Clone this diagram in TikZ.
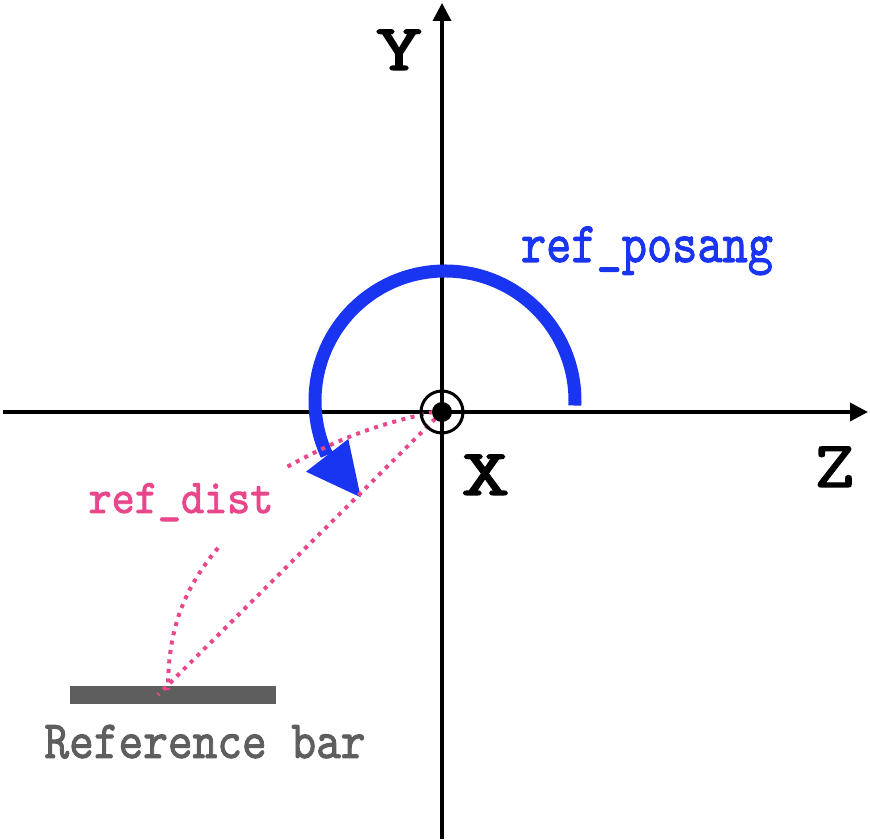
\documentclass[tikz,border=0pt]{standalone}
\usepackage{graphicx}
\usepackage{fontspec}
\usetikzlibrary{arrows.meta}
\newfontfamily\tw{lmmono10-regular}[Extension=.otf, FakeBold=1.8]
\definecolor{axisblack}{HTML}{000000}
\definecolor{posblue}{HTML}{1A35F2}
\definecolor{distpink}{HTML}{E8478B}
\definecolor{bargray}{HTML}{5E5E5E}
\begin{document}
\begin{tikzpicture}[x=1pt,y=1pt,
  axis/.style={line width=3.5pt, draw=axisblack, -{Triangle[length=18pt,width=18pt]}},
  pinkdot/.style={line width=4pt, draw=distpink, dash pattern=on 4pt off 5.5pt},
  caplbl/.style={anchor=base, inner sep=0pt, font=\tw\fontsize{66}{78}\selectfont},
  smlbl/.style={anchor=base, inner sep=0pt, font=\tw\fontsize{48}{58}\selectfont}]
\useasboundingbox (0,0) rectangle (870,840);
% axes
\coordinate (O) at (442,428);
\coordinate (zl) at (3,428);
\coordinate (zr) at (868,428);
\coordinate (yb) at (442,1);
\coordinate (yt) at (442,837);
\draw[axis] (zl) -- (zr);
\draw[axis] (yb) -- (yt);
% blue arc with arrowhead
\draw[line width=13pt, draw=posblue] (445,439) ++(-2:130) arc[start angle=-2, end angle=204.6, radius=130];
\fill[posblue] (360.7,342.7) -- (306,368.3) -- (348.3,401) -- cycle;
% reference bar
\fill[bargray] (70,136) rectangle (276,154);
% pink dotted lines
\coordinate (p1s) at (433,428);
\coordinate (p1e) at (285,372);
\coordinate (p2e) at (158,145);
\coordinate (p3s) at (218,292);
\coordinate (p3e) at (168,150);
\draw[pinkdot] (p1s) to[bend right=8] (p1e);
\draw[pinkdot] (O) -- (p2e);
\draw[pinkdot] (p3s) .. controls (183,250) and (168,210) .. (p3e);
% X axis symbol
\draw[line width=3pt, draw=axisblack] (O) circle[radius=21];
\fill[axisblack] (O) circle[radius=10];
% labels
\node[caplbl] (ylab) at (399,770) {\scalebox{1.35}[1]{Y}};
\node[caplbl] (xlab) at (485.5,345) {\scalebox{1.4}[1]{X}};
\node[caplbl] (zlab) at (834.5,353) {\scalebox{1.15}[1]{Z}};
\node[smlbl, text=posblue] (posang) at (647,578) {\scalebox{1}[1.2]{ref\_posang}};
\node[smlbl, text=distpink, font=\tw\fontsize{44}{54}\selectfont] (dist) at (181,327) {\scalebox{1}[1.1]{ref\_dist}};
\node[smlbl, text=bargray] (barlab) at (205,82) {\scalebox{0.98}[1.12]{Reference bar}};
\end{tikzpicture}
\end{document}
